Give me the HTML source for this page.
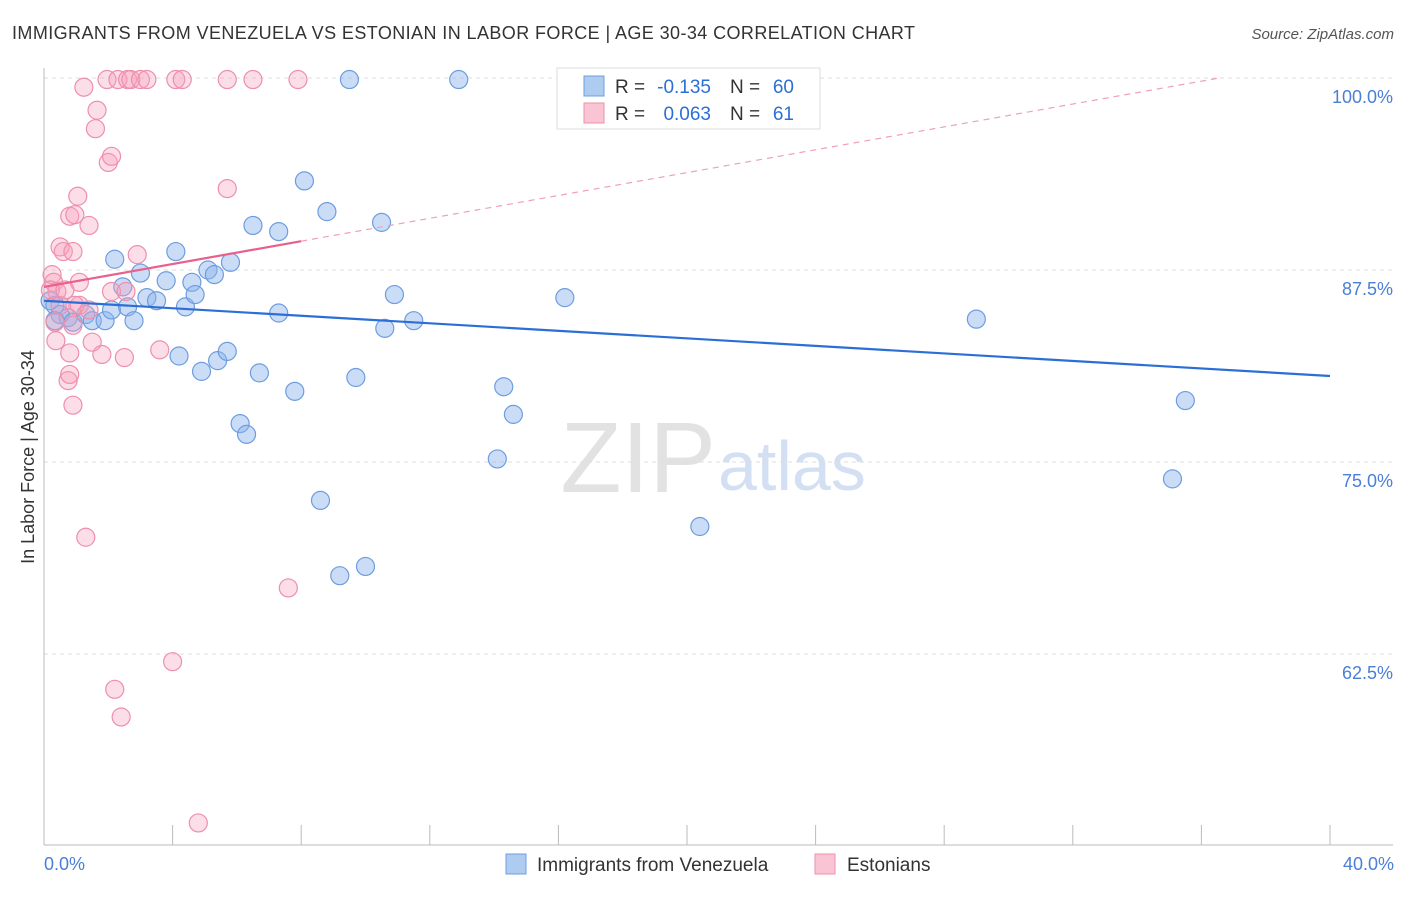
<!DOCTYPE html>
<html><head><meta charset="utf-8"><style>
body{margin:0;background:#fff;font-family:"Liberation Sans",sans-serif}
svg text{font-family:"Liberation Sans",sans-serif}
</style></head><body>
<svg id="chart" width="1406" height="892">
<text x="12" y="39" font-size="18" fill="#333" textLength="903">IMMIGRANTS FROM VENEZUELA VS ESTONIAN IN LABOR FORCE | AGE 30-34 CORRELATION CHART</text>
<text x="1394" y="39" font-size="15" fill="#555" text-anchor="end" font-style="italic">Source: ZipAtlas.com</text>
<text x="716" y="492" font-size="100" fill="#e2e2e2" text-anchor="end" font-family="Liberation Serif">ZIP</text>
<text x="718" y="490" font-size="70" fill="#d3e0f3">atlas</text>
<g id="grid"></g>
<g id="axes"></g>
<g id="pts"></g>
<g id="lines"></g>
<text transform="translate(34,457) rotate(-90)" font-size="18" fill="#333" text-anchor="middle">In Labor Force | Age 30-34</text>
<text x="44" y="870" font-size="18" fill="#4a7fd6">0.0%</text>
<text x="1394" y="870" font-size="18" fill="#4a7fd6" text-anchor="end">40.0%</text>
<g>
<rect x="557" y="68" width="263" height="61" fill="#fff" stroke="#ddd"/>
<rect x="584" y="76" width="20" height="20" fill="#aecbf0" stroke="#6d9de0"/>
<rect x="584" y="103" width="20" height="20" fill="#f9c4d4" stroke="#ee8fac"/>
<text x="615" y="93" font-size="19" fill="#333">R =</text>
<text x="711" y="93" font-size="19" fill="#2b6fd6" text-anchor="end">-0.135</text>
<text x="730" y="93" font-size="19" fill="#333">N =</text>
<text x="794" y="93" font-size="19" fill="#2b6fd6" text-anchor="end">60</text>
<text x="615" y="120" font-size="19" fill="#333">R =</text>
<text x="711" y="120" font-size="19" fill="#2b6fd6" text-anchor="end">0.063</text>
<text x="730" y="120" font-size="19" fill="#333">N =</text>
<text x="794" y="120" font-size="19" fill="#2b6fd6" text-anchor="end">61</text>
</g>
<g>
<rect x="506" y="854" width="20" height="20" fill="#aecbf0" stroke="#6d9de0"/>
<text x="537" y="871" font-size="19" fill="#333">Immigrants from Venezuela</text>
<rect x="815" y="854" width="20" height="20" fill="#f9c4d4" stroke="#ee8fac"/>
<text x="847" y="871" font-size="19" fill="#333">Estonians</text>
</g>
</svg>
<script>
const yTicks=[100,87.5,75,62.5];
const yTickLabels=["100.0%","87.5%","75.0%","62.5%"];
const xTicks=[0,4,8,12,16,20,24,28,32,36,40];
const blueX=[0.19,0.34,0.5,0.75,0.9,1.3,1.5,1.9,2.1,2.2,2.45,2.6,2.8,3.0,3.2,3.5,3.8,4.1,4.2,4.4,4.6,4.7,4.9,5.1,5.3,5.4,5.7,5.8,6.1,6.3,6.5,6.7,7.3,7.3,7.8,8.1,8.6,8.8,9.2,9.5,9.7,10.0,10.5,10.6,10.9,11.5,12.9,14.1,14.3,14.6,16.2,17.3,20.4,21.3,29.0,35.1,35.5,0.34];
const blueY=[85.5,85.2,84.6,84.4,84.1,84.6,84.2,84.2,84.9,88.2,86.4,85.1,84.2,87.3,85.7,85.5,86.8,88.7,81.9,85.1,86.7,85.9,80.9,87.5,87.2,81.6,82.2,88.0,77.5,76.8,90.4,80.8,84.7,90.0,79.6,93.3,72.5,91.3,67.6,99.9,80.5,68.2,90.6,83.7,85.9,84.2,99.9,75.2,79.9,78.1,85.7,99.9,70.8,99.9,84.3,73.9,79.0,84.2];
const pinkX=[0.25,0.3,0.4,0.34,0.5,0.37,0.5,0.6,0.8,0.96,0.75,0.8,0.8,0.9,0.9,0.9,1.05,1.1,1.1,1.24,1.3,1.4,1.5,1.6,1.65,1.8,1.96,2.0,2.1,2.1,2.2,2.3,2.4,2.5,2.55,2.6,2.7,2.9,3.0,3.2,3.6,4.0,4.1,4.3,4.8,5.7,5.7,6.5,7.6,7.9,0.2,0.65,0.96,1.4];
const pinkY=[87.2,86.7,86.1,84.1,85.2,82.9,89.0,88.7,91.0,91.1,80.3,80.7,82.1,88.7,78.7,83.9,92.3,86.7,85.2,99.4,70.1,90.4,82.8,96.7,97.9,82.0,99.9,94.5,94.9,86.1,60.2,99.9,58.4,81.8,86.1,99.9,99.9,88.5,99.9,99.9,82.3,62.0,99.9,99.9,51.5,99.9,92.8,99.9,66.8,99.9,86.2,86.2,85.2,84.9];
const blueFit=[85.5,80.6];
const pinkFit=[86.4,0.372];
const X=v=>44+v/40*1286, Y=v=>78+(100-v)/12.5*192;
const NS="http://www.w3.org/2000/svg";
function mk(p,t,a){const e=document.createElementNS(NS,t);for(const k in a)e.setAttribute(k,a[k]);p.appendChild(e);return e;}
const grid=document.getElementById('grid'),axes=document.getElementById('axes'),pts=document.getElementById('pts'),lines=document.getElementById('lines');
yTicks.forEach((t,i)=>{
 const l=mk(grid,'line',{x1:44,x2:1393,y1:Y(t),y2:Y(t),stroke:'#ddd','stroke-dasharray':'4,4'});
 
 
 const tx=mk(grid,'text',{x:1393,y:Y(t)+25,'font-size':18,fill:'#4a7fd6','text-anchor':'end'});
 tx.textContent=yTickLabels[i];
 
 
});
const ax=mk(axes,'line',{x1:44,x2:1393,y1:845,y2:845,stroke:'#bbb'});


const ay=mk(axes,'line',{x1:44,x2:44,y1:68,y2:845,stroke:'#bbb'});


xTicks.forEach(t=>{
 const l=mk(axes,'line',{x1:X(t),x2:X(t),y1:825,y2:845,stroke:'#bbb'});
 
 
});
blueX.forEach((v,i)=>{
 const c=mk(pts,'circle',{cx:X(v),cy:Y(blueY[i]),r:9,fill:'rgba(140,180,235,0.45)',stroke:'#6d9de0','stroke-width':1.2});
 
 
});
pinkX.forEach((v,i)=>{
 const c=mk(pts,'circle',{cx:X(v),cy:Y(pinkY[i]),r:9,fill:'rgba(245,160,190,0.35)',stroke:'#ee8fac','stroke-width':1.2});
 
 
});
const bl=mk(lines,'line',{x1:X(0),y1:Y(blueFit[0]),x2:X(40),y2:Y(blueFit[1]),stroke:'#2b6fd6','stroke-width':2.2});


const pl=mk(lines,'line',{x1:X(0),y1:Y(pinkFit[0]),x2:X(8),y2:Y(pinkFit[0]+8*pinkFit[1]),stroke:'#e8608c','stroke-width':2.2});


const xe=(100-pinkFit[0])/pinkFit[1];
const pd=mk(lines,'line',{x1:X(8),y1:Y(pinkFit[0]+8*pinkFit[1]),x2:X(xe),y2:Y(100),stroke:'#eea0b8','stroke-width':1.2,'stroke-dasharray':'6,5'});


</script>
</body></html>
